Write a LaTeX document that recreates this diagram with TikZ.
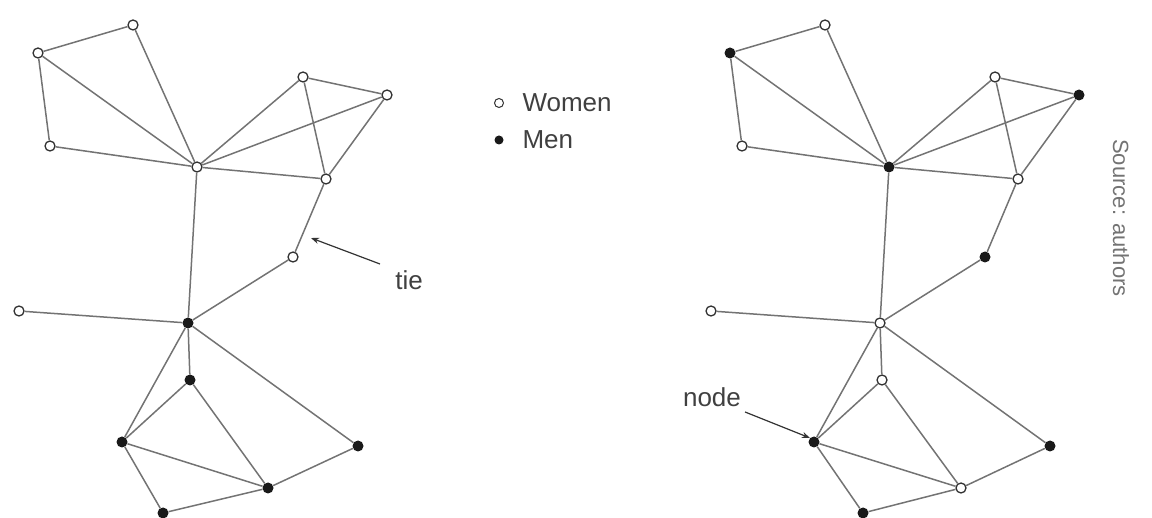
\documentclass[tikz,border=0pt]{standalone}
\usepackage{fontspec}
\setmainfont{Liberation Sans}
\usetikzlibrary{arrows.meta}

\begin{document}
\begin{tikzpicture}[x=1pt,y=-1pt,
  woman/.style={circle,draw=black!80,fill=white,line width=1.3pt,inner sep=0pt,minimum size=10pt},
  man/.style={circle,fill=black!90,inner sep=0pt,minimum size=11pt},
  tie/.style={draw=black!55,line width=1.5pt},
  pointer/.style={draw=black!80,line width=1.2pt,-{Stealth[length=8pt,width=6pt]}},
  lbl/.style={text=black!75,font=\fontsize{26}{30}\selectfont}]
\useasboundingbox (0,0) rectangle (1152,518);
%left network
\node[woman] (la) at (133,25) {};
\node[woman] (lb) at (38,53) {};
\node[woman] (lc) at (50,146) {};
\node[woman] (ld) at (197,167) {};
\node[woman] (le) at (303,77) {};
\node[woman] (lf) at (387,95) {};
\node[woman] (lg) at (326,179) {};
\node[woman] (lh) at (293,257) {};
\node[woman] (li) at (19,311) {};
\node[man] (lj) at (188,323) {};
\node[man] (lk) at (190,380) {};
\node[man] (ll) at (122,442) {};
\node[man] (lm) at (358,446) {};
\node[man] (ln) at (268,488) {};
\node[man] (lo) at (163,513) {};
\draw[tie] (la)--(lb) (la)--(ld) (lb)--(ld) (lb)--(lc) (lc)--(ld);
\draw[tie] (ld)--(le) (ld)--(lf) (ld)--(lg) (le)--(lf) (le)--(lg) (lf)--(lg);
\draw[tie] (lg)--(lh) (ld)--(lj) (lh)--(lj) (li)--(lj);
\draw[tie] (lj)--(lk) (lj)--(ll) (lj)--(lm) (lk)--(ll) (lk)--(ln);
\draw[tie] (ll)--(ln) (ll)--(lo) (ln)--(lo) (lm)--(ln);
%tie label
\coordinate (tiefrom) at (380,264);
\coordinate (tieto) at (311,238);
\draw[pointer] (tiefrom)--(tieto);
\node[lbl] (tielbl) at (409,280) {tie};
%legend
\node[woman,minimum size=9pt,line width=1pt] (kw) at (499,103) {};
\node[man,minimum size=9pt] (km) at (499,140) {};
\node[lbl,anchor=west] (kwtxt) at (519,103) {Women};
\node[lbl,anchor=west] (kmtxt) at (519,140) {Men};
%right network
\node[woman] (ra) at (825,25) {};
\node[man] (rb) at (730,53) {};
\node[woman] (rc) at (742,146) {};
\node[man] (rd) at (889,167) {};
\node[woman] (re) at (995,77) {};
\node[man] (rf) at (1079,95) {};
\node[woman] (rg) at (1018,179) {};
\node[man] (rh) at (985,257) {};
\node[woman] (ri) at (711,311) {};
\node[woman] (rj) at (880,323) {};
\node[woman] (rk) at (882,380) {};
\node[man] (rl) at (814,442) {};
\node[man] (rm) at (1050,446) {};
\node[woman] (rn) at (961,488) {};
\node[man] (ro) at (863,513) {};
\draw[tie] (ra)--(rb) (ra)--(rd) (rb)--(rd) (rb)--(rc) (rc)--(rd);
\draw[tie] (rd)--(re) (rd)--(rf) (rd)--(rg) (re)--(rf) (re)--(rg) (rf)--(rg);
\draw[tie] (rg)--(rh) (rd)--(rj) (rh)--(rj) (ri)--(rj);
\draw[tie] (rj)--(rk) (rj)--(rl) (rj)--(rm) (rk)--(rl) (rk)--(rn);
\draw[tie] (rl)--(rn) (rl)--(ro) (rn)--(ro) (rm)--(rn);
%node label
\node[lbl] (nodelbl) at (712,397) {node};
\coordinate (nodefrom) at (745,412);
\draw[pointer] (nodefrom)--(rl.north west);
%source
\node[text=black!55,font=\fontsize{22}{26}\selectfont,rotate=-90] (src) at (1121,218) {Source: authors};
\end{tikzpicture}
\end{document}
